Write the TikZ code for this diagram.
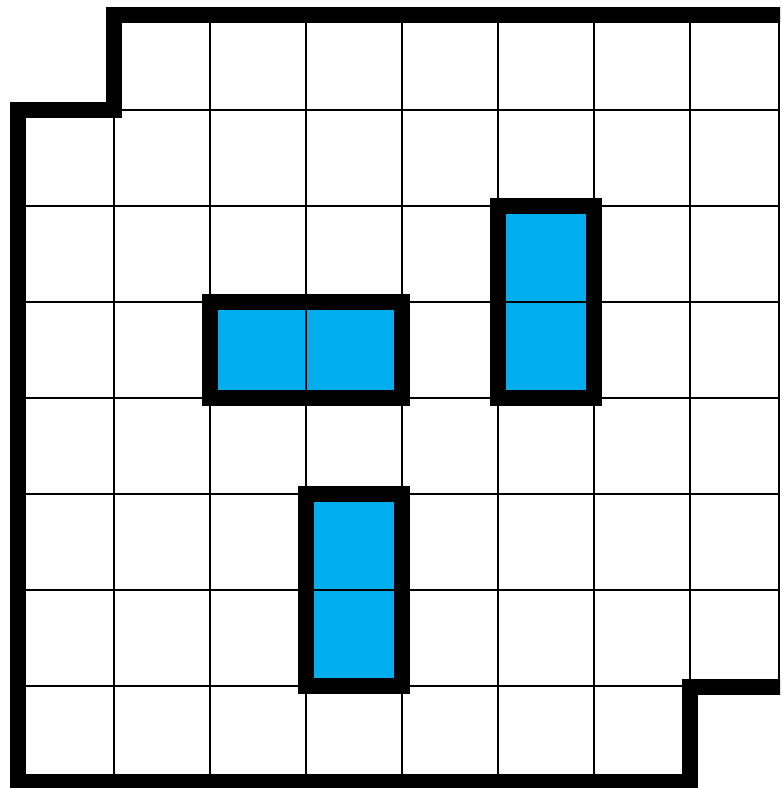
\documentclass[tikz,border=0pt]{standalone}
\definecolor{domino}{RGB}{0,174,239}
\tikzset{
  gridline/.style={line width=2.6pt, black},
  outline/.style={line width=16pt, black, line join=miter, line cap=butt},
  dominofill/.style={fill=domino},
  dominoedge/.style={line width=16pt, black, line join=miter}
}
\begin{document}
\begin{tikzpicture}[x=1pt,y=-1pt]
\useasboundingbox (0,0) rectangle (780,788);
\clip (0,0) rectangle (780,788);
% domino fills
\fill[dominofill] (210,302) rectangle (402,398);
\fill[dominofill] (498,206) rectangle (594,398);
\fill[dominofill] (306,494) rectangle (402,686);
% grid lines
\foreach \x in {210,306,402,498,594,690} {
  \draw[gridline] (\x,14) -- (\x,782);
}
\draw[gridline] (114,110) -- (114,782);
\draw[gridline] (779,14) -- (779,686);
\foreach \y in {206,302,398,494,590,686} {
  \draw[gridline] (18,\y) -- (780,\y);
}
\draw[gridline] (114,110) -- (780,110);
% domino borders
\draw[dominoedge] (210,302) rectangle (402,398);
\draw[dominoedge] (498,206) rectangle (594,398);
\draw[dominoedge] (306,494) rectangle (402,686);
% outline
\draw[outline] (800,14.5) -- (114,14.5) -- (114,110) -- (18,110) -- (18,782) -- (690,782) -- (690,686.5) -- (800,686.5);
\end{tikzpicture}
\end{document}
